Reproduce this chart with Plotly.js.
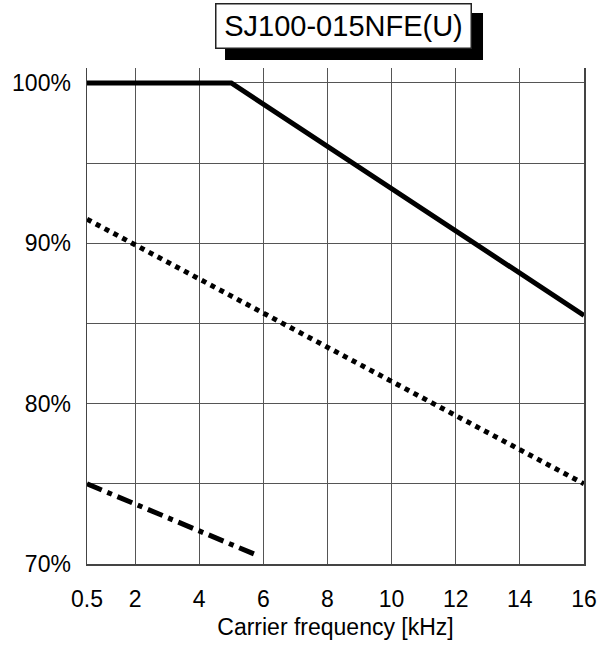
<!DOCTYPE html>
<html>
<head>
<meta charset="utf-8">
<script src="https://cdn.plot.ly/plotly-3.0.1.min.js"></script>
<style>html,body{margin:0;padding:0;background:#fff;}#chart{width:607px;height:645px;}</style>
</head>
<body>
<div id="chart"></div>
<script>
// Data
const chartTitle = "SJ100-015NFE(U)";
const xTitle = "Carrier frequency [kHz]";
const xTickVals = [0.5, 2, 4, 6, 8, 10, 12, 14, 16];
const xTickText = ["0.5", "2", "4", "6", "8", "10", "12", "14", "16"];
const yTickVals = [70, 75, 80, 85, 90, 95, 100];
const yTickText = ["70%", "", "80%", "", "90%", "", "100%"];

const solidX = [0.5, 5, 16];
const solidY = [100, 100, 85.5];
const dotX = [0.5, 16];
const dotY = [91.5, 75];
const dashDotX = [0.5, 5.8];
const dashDotY = [75, 70.55];

const FONT = "Liberation Sans, Arial, sans-serif";

const traces = [
  {x: solidX, y: solidY, mode: "lines", line: {color: "#000", width: 5}, cliponaxis: false, hoverinfo: "skip"},
  {x: dotX, y: dotY, mode: "lines", line: {color: "#000", width: 5, dash: "dot"}, hoverinfo: "skip"},
  {x: dashDotX, y: dashDotY, mode: "lines", line: {color: "#000", width: 5, dash: "16px,6px,5px,6px"}, hoverinfo: "skip"}
];

const layout = {
  width: 607, height: 645,
  margin: {l: 87, r: 23, t: 68, b: 81},
  paper_bgcolor: "#fff", plot_bgcolor: "#fff",
  showlegend: false,
  font: {family: FONT, color: "#000", size: 23},
  xaxis: {
    range: [0.5, 16], tickmode: "array", tickvals: xTickVals, ticktext: xTickText,
    showgrid: true, gridcolor: "#555", gridwidth: 1,
    showline: true, linecolor: "#444", linewidth: 1.5,
    ticks: "", ticklabelstandoff: 14, zeroline: false,
    tickfont: {family: FONT, size: 23, color: "#000"},
    title: {text: xTitle, font: {family: FONT, size: 23, color: "#000"}, standoff: 8}
  },
  yaxis: {
    range: [70, 100.93], tickmode: "array", tickvals: yTickVals, ticktext: yTickText,
    showgrid: true, gridcolor: "#555", gridwidth: 1,
    showline: true, mirror: true, linecolor: "#444", linewidth: 1.5,
    ticks: "", ticklabelstandoff: 10, zeroline: false,
    tickfont: {family: FONT, size: 23, color: "#000"}
  },
  shapes: [
    {type: "rect", xref: "paper", yref: "paper", x0: 0.2777, x1: 0.7968, y0: 1.0161, y1: 1.1109,
     fillcolor: "#000", line: {width: 0}, layer: "above"}
  ],
  annotations: [
    {text: chartTitle, xref: "paper", yref: "paper", x: 0.517, y: 1.0847, xanchor: "center", yanchor: "middle",
     showarrow: false, font: {family: FONT, size: 29, color: "#000"},
     width: 252, height: 41, align: "center", valign: "middle",
     bgcolor: "#fff", bordercolor: "#222", borderwidth: 1.5, borderpad: 1}
  ]
};

Plotly.newPlot("chart", traces, layout, {staticPlot: true, displayModeBar: false});
</script>
</body>
</html>
